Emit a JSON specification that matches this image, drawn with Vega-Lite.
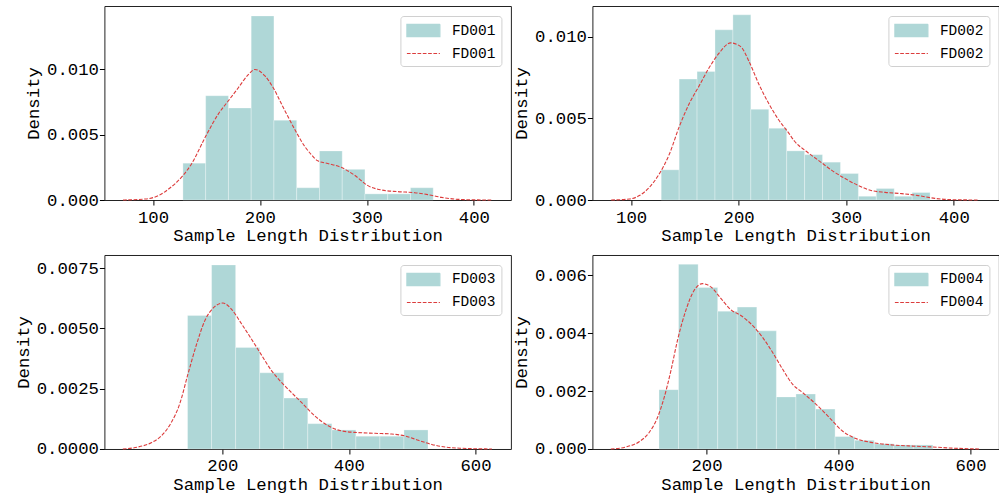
{
  "$schema": "https://vega.github.io/schema/vega-lite/v6.json",
  "background": "white",
  "padding": {"left": 13.4, "top": 5, "right": 0, "bottom": 0},
  "columns": 2,
  "bounds": "flush",
  "spacing": {"row": 55, "column": 81},
  "resolve": {"scale": {"color": "independent"}, "legend": {"color": "independent"}},
  "datasets": {
    "h1": [
      {"x0": 128, "x1": 149.27, "density": 0.00282},
      {"x0": 149.27, "x1": 170.55, "density": 0.00799},
      {"x0": 170.55, "x1": 191.82, "density": 0.00705},
      {"x0": 191.82, "x1": 213.09, "density": 0.0141},
      {"x0": 213.09, "x1": 234.36, "density": 0.00611},
      {"x0": 234.36, "x1": 255.64, "density": 0.00094},
      {"x0": 255.64, "x1": 276.91, "density": 0.00376},
      {"x0": 276.91, "x1": 298.18, "density": 0.00235},
      {"x0": 298.18, "x1": 319.45, "density": 0.00047},
      {"x0": 319.45, "x1": 340.73, "density": 0.00047},
      {"x0": 340.73, "x1": 362, "density": 0.00094}
    ],
    "k1": [
      {"x": 72, "density": 0}, {"x": 93, "density": 0.00008}, {"x": 105, "density": 0.00033},
      {"x": 114.6, "density": 0.00084}, {"x": 128, "density": 0.00187}, {"x": 136.3, "density": 0.0028},
      {"x": 148.8, "density": 0.0048}, {"x": 161.2, "density": 0.0066}, {"x": 170.5, "density": 0.0076},
      {"x": 179.8, "density": 0.0086}, {"x": 189.1, "density": 0.0096}, {"x": 195.3, "density": 0.01},
      {"x": 204.7, "density": 0.0095}, {"x": 212.4, "density": 0.0086}, {"x": 221.7, "density": 0.0071},
      {"x": 232.6, "density": 0.0054}, {"x": 241.9, "density": 0.0041}, {"x": 247.8, "density": 0.0035},
      {"x": 254, "density": 0.003}, {"x": 263.4, "density": 0.0028}, {"x": 276, "density": 0.0025},
      {"x": 288.4, "density": 0.0019}, {"x": 301, "density": 0.0011}, {"x": 313.4, "density": 0.00077},
      {"x": 329, "density": 0.00064}, {"x": 344.7, "density": 0.00056}, {"x": 357, "density": 0.00041},
      {"x": 369.7, "density": 0.0002}, {"x": 385.3, "density": 0.00005}, {"x": 401, "density": 0.00001},
      {"x": 416.6, "density": 0}
    ],
    "h2": [
      {"x0": 128, "x1": 144.67, "density": 0.00185},
      {"x0": 144.67, "x1": 161.33, "density": 0.00741},
      {"x0": 161.33, "x1": 178, "density": 0.00788},
      {"x0": 178, "x1": 194.67, "density": 0.01043},
      {"x0": 194.67, "x1": 211.33, "density": 0.01135},
      {"x0": 211.33, "x1": 228, "density": 0.00556},
      {"x0": 228, "x1": 244.67, "density": 0.0044},
      {"x0": 244.67, "x1": 261.33, "density": 0.00301},
      {"x0": 261.33, "x1": 278, "density": 0.00278},
      {"x0": 278, "x1": 294.67, "density": 0.00232},
      {"x0": 294.67, "x1": 311.33, "density": 0.00162},
      {"x0": 311.33, "x1": 328, "density": 0.00023},
      {"x0": 328, "x1": 344.67, "density": 0.0007},
      {"x0": 344.67, "x1": 361.33, "density": 0.00023},
      {"x0": 361.33, "x1": 378, "density": 0.00046}
    ],
    "k2": [
      {"x": 81.5, "density": 0}, {"x": 98.5, "density": 0.00006}, {"x": 107.7, "density": 0.00027},
      {"x": 117, "density": 0.00078}, {"x": 126.2, "density": 0.0016}, {"x": 135.5, "density": 0.0028},
      {"x": 144.8, "density": 0.0045}, {"x": 154, "density": 0.0059}, {"x": 163.3, "density": 0.007},
      {"x": 172.5, "density": 0.0081}, {"x": 181.8, "density": 0.009}, {"x": 192.6, "density": 0.00963},
      {"x": 201.9, "density": 0.0094}, {"x": 209.6, "density": 0.0085}, {"x": 218.8, "density": 0.0071},
      {"x": 228.1, "density": 0.0059}, {"x": 237.3, "density": 0.0049}, {"x": 246.6, "density": 0.0041},
      {"x": 252, "density": 0.0036}, {"x": 262.5, "density": 0.003}, {"x": 274.8, "density": 0.0024},
      {"x": 287, "density": 0.0018}, {"x": 299.4, "density": 0.0013}, {"x": 311.7, "density": 0.00088},
      {"x": 324, "density": 0.00057}, {"x": 336.3, "density": 0.00047}, {"x": 351.7, "density": 0.00039},
      {"x": 367, "density": 0.00027}, {"x": 382.5, "density": 0.0001}, {"x": 397.8, "density": 0.00002},
      {"x": 422.5, "density": 0}
    ],
    "h3": [
      {"x0": 145, "x1": 183, "density": 0.00553},
      {"x0": 183, "x1": 221, "density": 0.00763},
      {"x0": 221, "x1": 259, "density": 0.00421},
      {"x0": 259, "x1": 297, "density": 0.00316},
      {"x0": 297, "x1": 335, "density": 0.00211},
      {"x0": 335, "x1": 373, "density": 0.00105},
      {"x0": 373, "x1": 411, "density": 0.00079},
      {"x0": 411, "x1": 449, "density": 0.00053},
      {"x0": 449, "x1": 487, "density": 0.00053},
      {"x0": 487, "x1": 525, "density": 0.00079}
    ],
    "k3": [
      {"x": 42.7, "density": 0}, {"x": 66.5, "density": 0.00008}, {"x": 87.6, "density": 0.00026},
      {"x": 103.4, "density": 0.00054}, {"x": 119.3, "density": 0.0011}, {"x": 132.5, "density": 0.00186},
      {"x": 145.6, "density": 0.0031}, {"x": 158.8, "density": 0.0043}, {"x": 172, "density": 0.0053},
      {"x": 187.9, "density": 0.0059}, {"x": 201, "density": 0.00605}, {"x": 214.2, "density": 0.0058},
      {"x": 230, "density": 0.0052}, {"x": 245.9, "density": 0.00456}, {"x": 261.7, "density": 0.0039},
      {"x": 277.6, "density": 0.00325}, {"x": 293.4, "density": 0.00276}, {"x": 309.2, "density": 0.00234},
      {"x": 325, "density": 0.00193}, {"x": 346.2, "density": 0.00137}, {"x": 367.3, "density": 0.00096},
      {"x": 388.4, "density": 0.00075}, {"x": 414.8, "density": 0.00068}, {"x": 441.2, "density": 0.00065},
      {"x": 467.5, "density": 0.00062}, {"x": 488.7, "density": 0.00054}, {"x": 509.8, "density": 0.00036},
      {"x": 530.9, "density": 0.00019}, {"x": 552, "density": 0.00008}, {"x": 578.4, "density": 0.00003},
      {"x": 626, "density": 0}
    ],
    "h4": [
      {"x0": 128, "x1": 157.64, "density": 0.00205},
      {"x0": 157.64, "x1": 187.29, "density": 0.00638},
      {"x0": 187.29, "x1": 216.93, "density": 0.00558},
      {"x0": 216.93, "x1": 246.57, "density": 0.00476},
      {"x0": 246.57, "x1": 276.21, "density": 0.0049},
      {"x0": 276.21, "x1": 305.86, "density": 0.00408},
      {"x0": 305.86, "x1": 335.5, "density": 0.0018},
      {"x0": 335.5, "x1": 365.14, "density": 0.0019},
      {"x0": 365.14, "x1": 394.79, "density": 0.00138},
      {"x0": 394.79, "x1": 424.43, "density": 0.00043},
      {"x0": 424.43, "x1": 454.07, "density": 0.0003},
      {"x0": 454.07, "x1": 483.71, "density": 0.00018},
      {"x0": 483.71, "x1": 513.36, "density": 0.00014},
      {"x0": 513.36, "x1": 543, "density": 0.00014}
    ],
    "k4": [
      {"x": 55, "density": 0}, {"x": 77.8, "density": 0.00007}, {"x": 98, "density": 0.00025},
      {"x": 113.1, "density": 0.00057}, {"x": 125.8, "density": 0.00109}, {"x": 135.9, "density": 0.00178},
      {"x": 146, "density": 0.0027}, {"x": 156, "density": 0.00375}, {"x": 168.7, "density": 0.00479},
      {"x": 181.3, "density": 0.00548}, {"x": 193.9, "density": 0.00571}, {"x": 206.6, "density": 0.0056},
      {"x": 221.7, "density": 0.0052}, {"x": 236.9, "density": 0.00481}, {"x": 252, "density": 0.00461},
      {"x": 269.7, "density": 0.00427}, {"x": 284.8, "density": 0.00386}, {"x": 300, "density": 0.00334},
      {"x": 315.2, "density": 0.00276}, {"x": 330.3, "density": 0.00224}, {"x": 345.5, "density": 0.00195},
      {"x": 365.7, "density": 0.00155}, {"x": 385.9, "density": 0.00109}, {"x": 406, "density": 0.00062},
      {"x": 426.3, "density": 0.00036}, {"x": 451.5, "density": 0.00022}, {"x": 481.8, "density": 0.00014},
      {"x": 512, "density": 0.0001}, {"x": 542.4, "density": 0.00007}, {"x": 572.7, "density": 0.00003},
      {"x": 613, "density": 0}
    ]
  },
  "concat": [
    {
      "width": 406.5, "height": 194,
      "layer": [
        {
          "data": {"name": "h1"},
          "mark": {"type": "bar", "stroke": "#ffffff", "strokeWidth": 0.5, "strokeOpacity": 0.6},
          "encoding": {
            "x": {"field": "x0", "type": "quantitative", "scale": {"domain": [54.6, 434.6], "nice": false, "zero": false}, "axis": {"values": [100, 200, 300, 400], "title": "Sample Length Distribution"}},
            "x2": {"field": "x1"},
            "y": {"field": "density", "type": "quantitative", "scale": {"domain": [0, 0.01486], "nice": false}, "axis": {"values": [0, 0.005, 0.01], "format": ".3f", "title": "Density"}},
            "y2": {"datum": 0},
            "color": {"datum": "FD001|hist", "type": "nominal", "scale": {"domain": ["FD001|hist", "FD001|kde"], "range": ["#afd7d7", "#dc3c3c"]},
              "legend": {"title": null, "orient": "top-right", "offset": 9.5, "labelExpr": "split(datum.label,'|')[0]",
                "symbolType": {"expr": "indexof(datum.value,'kde')>=0 ? 'M-1,0H3.125' : 'M-1,-0.77H3.125V0.77H-1Z'"},
                "symbolFillColor": {"expr": "indexof(datum.value,'kde')>=0 ? 'transparent' : '#afd7d7'"},
                "symbolStrokeColor": {"expr": "indexof(datum.value,'kde')>=0 ? '#dc3c3c' : 'transparent'"},
                "symbolDash": {"expr": "indexof(datum.value,'kde')>=0 ? [3.7,1.6] : [1,0]"}}}
          }
        },
        {
          "data": {"name": "k1"},
          "mark": {"type": "line", "strokeDash": [3.7, 1.6], "strokeWidth": 1.1, "interpolate": "monotone"},
          "encoding": {
            "x": {"field": "x", "type": "quantitative"},
            "y": {"field": "density", "type": "quantitative"},
            "color": {"datum": "FD001|kde", "type": "nominal"}
          }
        }
      ]
    },
    {
      "width": 406.5, "height": 194,
      "layer": [
        {
          "data": {"name": "h2"},
          "mark": {"type": "bar", "stroke": "#ffffff", "strokeWidth": 0.5, "strokeOpacity": 0.6},
          "encoding": {
            "x": {"field": "x0", "type": "quantitative", "scale": {"domain": [64, 442], "nice": false, "zero": false}, "axis": {"values": [100, 200, 300, 400], "title": "Sample Length Distribution"}},
            "x2": {"field": "x1"},
            "y": {"field": "density", "type": "quantitative", "scale": {"domain": [0, 0.01189], "nice": false}, "axis": {"values": [0, 0.005, 0.01], "format": ".3f", "title": "Density"}},
            "y2": {"datum": 0},
            "color": {"datum": "FD002|hist", "type": "nominal", "scale": {"domain": ["FD002|hist", "FD002|kde"], "range": ["#afd7d7", "#dc3c3c"]},
              "legend": {"title": null, "orient": "top-right", "offset": 9.5, "labelExpr": "split(datum.label,'|')[0]",
                "symbolType": {"expr": "indexof(datum.value,'kde')>=0 ? 'M-1,0H3.125' : 'M-1,-0.77H3.125V0.77H-1Z'"},
                "symbolFillColor": {"expr": "indexof(datum.value,'kde')>=0 ? 'transparent' : '#afd7d7'"},
                "symbolStrokeColor": {"expr": "indexof(datum.value,'kde')>=0 ? '#dc3c3c' : 'transparent'"},
                "symbolDash": {"expr": "indexof(datum.value,'kde')>=0 ? [3.7,1.6] : [1,0]"}}}
          }
        },
        {
          "data": {"name": "k2"},
          "mark": {"type": "line", "strokeDash": [3.7, 1.6], "strokeWidth": 1.1, "interpolate": "monotone"},
          "encoding": {
            "x": {"field": "x", "type": "quantitative"},
            "y": {"field": "density", "type": "quantitative"},
            "color": {"datum": "FD002|kde", "type": "nominal"}
          }
        }
      ]
    },
    {
      "width": 406.5, "height": 194,
      "layer": [
        {
          "data": {"name": "h3"},
          "mark": {"type": "bar", "stroke": "#ffffff", "strokeWidth": 0.5, "strokeOpacity": 0.6},
          "encoding": {
            "x": {"field": "x0", "type": "quantitative", "scale": {"domain": [13.6, 656], "nice": false, "zero": false}, "axis": {"values": [200, 400, 600], "title": "Sample Length Distribution"}},
            "x2": {"field": "x1"},
            "y": {"field": "density", "type": "quantitative", "scale": {"domain": [0, 0.00804], "nice": false}, "axis": {"values": [0, 0.0025, 0.005, 0.0075], "format": ".4f", "title": "Density"}},
            "y2": {"datum": 0},
            "color": {"datum": "FD003|hist", "type": "nominal", "scale": {"domain": ["FD003|hist", "FD003|kde"], "range": ["#afd7d7", "#dc3c3c"]},
              "legend": {"title": null, "orient": "top-right", "offset": 9.5, "labelExpr": "split(datum.label,'|')[0]",
                "symbolType": {"expr": "indexof(datum.value,'kde')>=0 ? 'M-1,0H3.125' : 'M-1,-0.77H3.125V0.77H-1Z'"},
                "symbolFillColor": {"expr": "indexof(datum.value,'kde')>=0 ? 'transparent' : '#afd7d7'"},
                "symbolStrokeColor": {"expr": "indexof(datum.value,'kde')>=0 ? '#dc3c3c' : 'transparent'"},
                "symbolDash": {"expr": "indexof(datum.value,'kde')>=0 ? [3.7,1.6] : [1,0]"}}}
          }
        },
        {
          "data": {"name": "k3"},
          "mark": {"type": "line", "strokeDash": [3.7, 1.6], "strokeWidth": 1.1, "interpolate": "monotone"},
          "encoding": {
            "x": {"field": "x", "type": "quantitative"},
            "y": {"field": "density", "type": "quantitative"},
            "color": {"datum": "FD003|kde", "type": "nominal"}
          }
        }
      ]
    },
    {
      "width": 406.5, "height": 194,
      "layer": [
        {
          "data": {"name": "h4"},
          "mark": {"type": "bar", "stroke": "#ffffff", "strokeWidth": 0.5, "strokeOpacity": 0.6},
          "encoding": {
            "x": {"field": "x0", "type": "quantitative", "scale": {"domain": [27.1, 643], "nice": false, "zero": false}, "axis": {"values": [200, 400, 600], "title": "Sample Length Distribution"}},
            "x2": {"field": "x1"},
            "y": {"field": "density", "type": "quantitative", "scale": {"domain": [0, 0.0067], "nice": false}, "axis": {"values": [0, 0.002, 0.004, 0.006], "format": ".3f", "title": "Density"}},
            "y2": {"datum": 0},
            "color": {"datum": "FD004|hist", "type": "nominal", "scale": {"domain": ["FD004|hist", "FD004|kde"], "range": ["#afd7d7", "#dc3c3c"]},
              "legend": {"title": null, "orient": "top-right", "offset": 9.5, "labelExpr": "split(datum.label,'|')[0]",
                "symbolType": {"expr": "indexof(datum.value,'kde')>=0 ? 'M-1,0H3.125' : 'M-1,-0.77H3.125V0.77H-1Z'"},
                "symbolFillColor": {"expr": "indexof(datum.value,'kde')>=0 ? 'transparent' : '#afd7d7'"},
                "symbolStrokeColor": {"expr": "indexof(datum.value,'kde')>=0 ? '#dc3c3c' : 'transparent'"},
                "symbolDash": {"expr": "indexof(datum.value,'kde')>=0 ? [3.7,1.6] : [1,0]"}}}
          }
        },
        {
          "data": {"name": "k4"},
          "mark": {"type": "line", "strokeDash": [3.7, 1.6], "strokeWidth": 1.1, "interpolate": "monotone"},
          "encoding": {
            "x": {"field": "x", "type": "quantitative"},
            "y": {"field": "density", "type": "quantitative"},
            "color": {"datum": "FD004|kde", "type": "nominal"}
          }
        }
      ]
    }
  ],
  "config": {
    "view": {"stroke": "#222222", "strokeWidth": 1},
    "axis": {
      "labelFont": "Liberation Mono", "labelFontSize": 17.3, "labelColor": "#000000",
      "titleFont": "Liberation Mono", "titleFontSize": 17.3, "titleFontWeight": "normal", "titleColor": "#000000",
      "tickColor": "#000000", "tickSize": 5, "tickWidth": 1, "grid": false, "domain": false,
      "labelFlush": false, "labelOverlap": false
    },
    "axisX": {"labelPadding": 3, "titlePadding": 1},
    "axisY": {"labelPadding": 1, "titlePadding": 4},
    "legend": {
      "labelFont": "Liberation Mono", "labelFontSize": 14.5, "labelColor": "#000000",
      "symbolSize": 256, "symbolStrokeWidth": 1.2, "labelOffset": 28, "rowPadding": 5, "padding": 5.5,
      "strokeColor": "#d0d0d0", "fillColor": "rgba(255,255,255,0.8)", "cornerRadius": 3
    }
  }
}
